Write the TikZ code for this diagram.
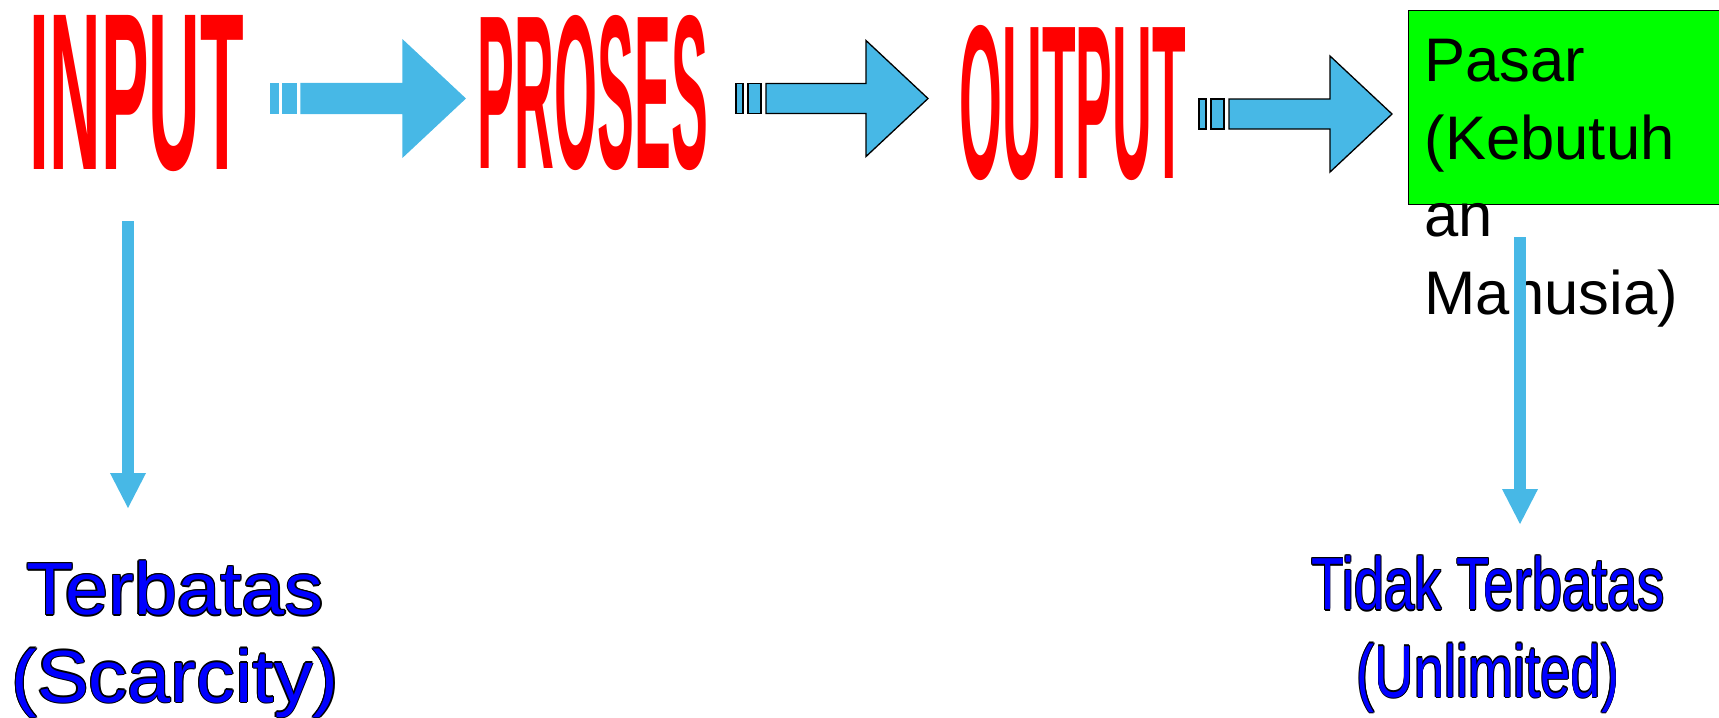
\documentclass[tikz,border=0pt]{standalone}
\usepackage{fontspec}
\setmainfont{Liberation Sans}
\usetikzlibrary{arrows.meta,calc}

\definecolor{arrowblue}{RGB}{71,184,230}
\definecolor{boxgreen}{RGB}{0,255,0}

\newcommand{\outl}[1]{\leavevmode
  \rlap{\kern.34pt\textcolor{black}{#1}}%
  \rlap{\kern-.34pt\textcolor{black}{#1}}%
  \rlap{\raisebox{.34pt}{\textcolor{black}{#1}}}%
  \rlap{\raisebox{-.34pt}{\textcolor{black}{#1}}}%
  \rlap{\kern.24pt\raisebox{.24pt}{\textcolor{black}{#1}}}%
  \rlap{\kern-.24pt\raisebox{.24pt}{\textcolor{black}{#1}}}%
  \rlap{\kern.24pt\raisebox{-.24pt}{\textcolor{black}{#1}}}%
  \rlap{\kern-.24pt\raisebox{-.24pt}{\textcolor{black}{#1}}}%
  \textcolor{blue}{#1}}

\newcommand{\fatarrow}[3][]{%
  \draw[fatbody,#1] ($(#2)+(0,-15)$) rectangle ($(#2)+(7,15)$);
  \draw[fatbody,#1] ($(#2)+(12,-15)$) rectangle ($(#2)+(25,15)$);
  \draw[fatbody,#1] ($(#2)+(30,-15)$) -- ($(#3)+(-62,-15)$) -- ($(#3)+(-62,-58)$) -- (#3)
    -- ($(#3)+(-62,58)$) -- ($(#3)+(-62,15)$) -- ($(#2)+(30,15)$) -- cycle;}

\begin{document}
\begin{tikzpicture}[
  x=0.01cm, y=-0.01cm,
  word/.style={inner sep=0, anchor=base west, text=red, font=\bfseries},
  fatbody/.style={fill=arrowblue, draw=black, line width=0.13mm, line join=miter},
  downarrow/.style={arrowblue, line width=0.12cm, -{Triangle[width=0.36cm,length=0.35cm,line width=0pt]}},
  pasarbox/.style={draw=black, fill=boxgreen, line width=0.1mm, inner sep=0, anchor=north west, minimum width=3.3cm, minimum height=1.94cm},
  pasartext/.style={inner sep=0, anchor=base west, align=left, font=\fontsize{17.5pt}{22pt}\selectfont},
  limit/.style={inner sep=0, anchor=base, align=center, font=\fontsize{21pt}{24.8pt}\selectfont}
]
\useasboundingbox (0,0) rectangle (1719,717);

\node[word] (input) at (29,169) {\resizebox{2.14cm}{1.54cm}{INPUT}};
\node[word] (proses) at (477,168) {\resizebox{2.30cm}{1.53cm}{PROSES}};
\node[word] (output) at (959,178) {\resizebox{2.26cm}{1.53cm}{OUTPUT}};

\node[pasarbox] (pasar) at (1408,10) {};
\node[pasartext] (pasarlabel) at (1424,314) {Pasar\\(Kebutuh\\an\\Manusia)};

\node[limit] (terbatas) at (175,702) {\scalebox{1.05}[1]{\outl{Terbatas}}\\\scalebox{1.05}[1]{\outl{(Scarcity)}}};
\node[limit] (unlimited) at (1488,697) {\scalebox{0.735}[1]{\outl{Tidak Terbatas}}\\\scalebox{0.735}[1]{\outl{(Unlimited)}}};

\coordinate (a1s) at (271,98.5);
\coordinate (a1t) at (465,98.5);
\coordinate (a2s) at (736,98.5);
\coordinate (a2t) at (928,98.5);
\coordinate (a3s) at (1199,114);
\coordinate (a3t) at (1392,114);
\fatarrow[draw=arrowblue]{a1s}{a1t}
\fatarrow{a2s}{a2t}
\fatarrow{a3s}{a3t}

\coordinate (inlimit) at (128,221);
\coordinate (inlimitend) at (128,508);
\coordinate (outlimit) at (1520,237);
\coordinate (outlimitend) at (1520,524);
\draw[downarrow] (inlimit) -- (inlimitend);
\draw[downarrow] (outlimit) -- (outlimitend);
\end{tikzpicture}
\end{document}
